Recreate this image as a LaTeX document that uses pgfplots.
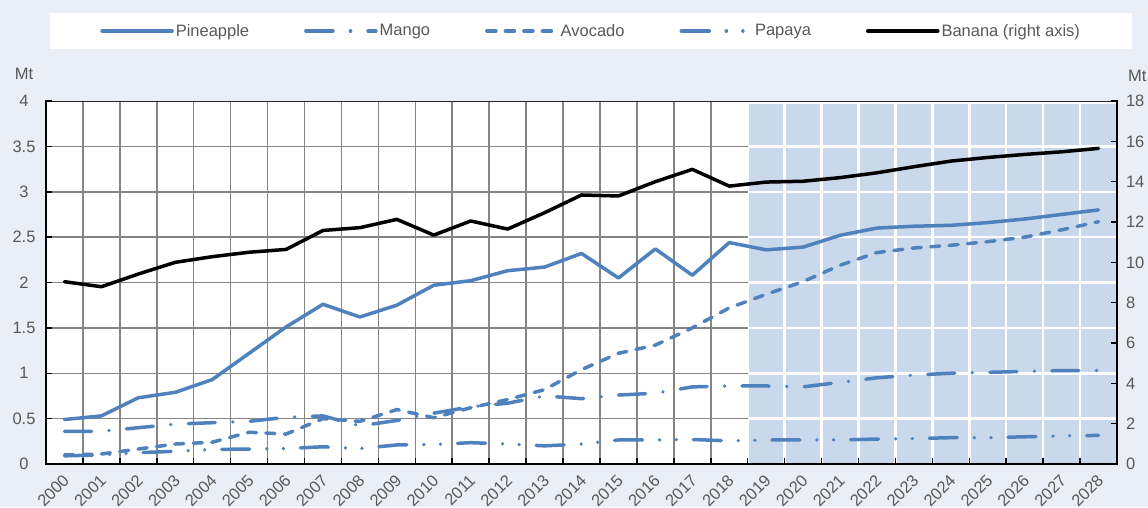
\documentclass[border=0pt]{standalone}
\usepackage{fontspec}
\setmainfont{Liberation Sans}
\usepackage{pgfplots}
\usepackage{pgfplotstable}
\pgfplotsset{compat=1.18}
\definecolor{bgc}{HTML}{EAEEF6}
\definecolor{shadec}{HTML}{C9D8EA}
\definecolor{oblue}{HTML}{4F81BD}
\definecolor{txt}{HTML}{595959}
\definecolor{gridg}{HTML}{858585}
\newcommand\tf{\fontsize{16.5}{19.5}\selectfont}

\pgfplotstableread{
x pine mango avo papaya banana
0  0.49 0.36  0.10  0.09  9.04
1  0.53 0.36  0.11  0.10  8.79
2  0.73 0.40  0.165 0.125 9.42
3  0.79 0.44  0.22  0.14  10.00
4  0.93 0.455 0.24  0.16  10.28
5  1.22 0.47  0.35  0.165 10.50
6  1.51 0.515 0.33  0.17  10.64
7  1.76 0.53  0.50  0.19  11.58
8  1.62 0.42  0.47  0.17  11.72
9  1.75 0.48  0.60  0.21  12.13
10 1.97 0.56  0.51  0.215 11.35
11 2.02 0.63  0.62  0.235 12.05
12 2.13 0.67  0.71  0.22  11.65
13 2.17 0.75  0.82  0.20  12.46
14 2.32 0.72  1.04  0.22  13.34
15 2.05 0.76  1.22  0.265 13.29
16 2.37 0.78  1.31  0.265 14.00
17 2.08 0.85  1.50  0.27  14.61
18 2.44 0.86  1.72  0.255 13.78
19 2.36 0.86  1.87  0.265 13.98
20 2.39 0.85  2.01  0.265 14.02
21 2.52 0.90  2.19  0.265 14.20
22 2.60 0.95  2.33  0.275 14.44
23 2.62 0.98  2.38  0.28  14.74
24 2.63 1.00  2.41  0.29  15.02
25 2.66 1.01  2.45  0.29  15.20
26 2.70 1.02  2.50  0.30  15.35
27 2.75 1.03  2.58  0.31  15.48
28 2.80 1.03  2.67  0.315 15.65
}\datatable

\begin{document}
\begin{tikzpicture}
\fill[bgc] (0pt,0pt) rectangle (1148pt,507pt);
\useasboundingbox (0pt,0pt) rectangle (1148pt,507pt);
\begin{axis}[
  at={(46pt,43pt)}, anchor=south west, scale only axis,
  width=1071pt, height=363pt,
  xmin=-0.5, xmax=28.5, ymin=0, ymax=4,
  axis x line*=bottom, axis y line*=left,
  axis line style={-, line width=2.5pt, black, line cap=rect},
  axis background/.style={fill=white, path picture={
    \fill[shadec] ([xshift=701.69pt]path picture bounding box.south west) rectangle (path picture bounding box.north east);
    \foreach \i in {1,...,18} {\draw[gridg, line width=1.5pt] ([xshift=\i*36.931pt]path picture bounding box.south west) -- ++(0pt,363pt);}
    \foreach \i in {19,...,28} {\draw[white, line width=2.5pt] ([xshift=\i*36.931pt]path picture bounding box.south west) -- ++(0pt,363pt);}
    \foreach \j in {1,...,7} {
      \draw[gridg, line width=1.5pt] ([yshift=\j*45.375pt]path picture bounding box.south west) -- ++(701.69pt,0pt);
      \draw[white, line width=2.5pt] ([xshift=701.69pt, yshift=\j*45.375pt]path picture bounding box.south west) -- ++(369.31pt,0pt);
    }
    \draw[white, line width=5pt] ([xshift=701.69pt]path picture bounding box.north west) -- (path picture bounding box.north east);
    \draw[black!85, line width=2pt] (path picture bounding box.north west) -- (path picture bounding box.north east);
  }},
  xtick={-0.5,0.5,...,28.5},
  x tick label as interval,
  xticklabels={2000,2001,2002,2003,2004,2005,2006,2007,2008,2009,2010,2011,2012,2013,2014,2015,2016,2017,2018,2019,2020,2021,2022,2023,2024,2025,2026,2027,2028},
  ytick={0,0.5,...,4},
  tick align=inside, major tick length=6pt,
  tick style={black, line width=1.5pt},
  xticklabel style={rotate=45, anchor=east, xshift=-5pt, yshift=-11pt, font=\tf, text=txt},
  yticklabel style={anchor=center, xshift=-22pt, font=\tf, text=txt},
  /pgf/number format/assume math mode=true,
  legend style={at={(0.509,1.1928)}, anchor=center, draw=none, fill=white,
    font=\tf, text=txt, inner xsep=50pt, inner ysep=9.5pt,
    /tikz/every even column/.append style={column sep=53pt}},
  legend columns=5,
  legend cell align=left,
  legend image code/.code={\draw[#1] (0pt,0pt) -- (70pt,0pt);},
  every axis plot/.append style={mark=none, line width=3.5pt, line cap=round, line join=round},
]
\addplot[oblue] table[x=x, y=pine]{\datatable};
\addlegendentry{Pineapple}
\addplot[oblue, dash pattern=on 27pt off 17.5pt on 0.1pt off 17.5pt] table[x=x, y=mango]{\datatable};
\addlegendentry{Mango}
\addplot[oblue, dash pattern=on 9pt off 9.5pt] table[x=x, y=avo]{\datatable};
\addlegendentry{Avocado}
\addplot[oblue, dash pattern=on 28pt off 17pt on 0.1pt off 16.5pt on 0.1pt off 17pt] table[x=x, y=papaya]{\datatable};
\addlegendentry{Papaya}
\addlegendimage{black, line width=3.5pt}
\addlegendentry{Banana (right axis)}
\end{axis}
\begin{axis}[
  at={(46pt,43pt)}, anchor=south west, scale only axis,
  width=1071pt, height=363pt,
  xmin=-0.5, xmax=28.5, ymin=0, ymax=18,
  hide x axis, axis y line*=right,
  axis line style={-, line width=2.5pt, black, line cap=rect},
  ytick={0,2,...,18},
  tick align=inside, major tick length=6pt,
  tick style={black, line width=1.5pt},
  yticklabel style={anchor=west, xshift=5.5pt, font=\tf, text=txt},
  /pgf/number format/assume math mode=true,
]
\addplot[black, mark=none, line width=3.5pt, line cap=round, line join=round] table[x=x, y=banana]{\datatable};
\end{axis}
\node[font=\tf, text=txt] at (24pt,433pt) {Mt};
\node[font=\tf, text=txt, anchor=west, inner sep=0pt] at (1128pt,431.5pt) {Mt};
\end{tikzpicture}
\end{document}
